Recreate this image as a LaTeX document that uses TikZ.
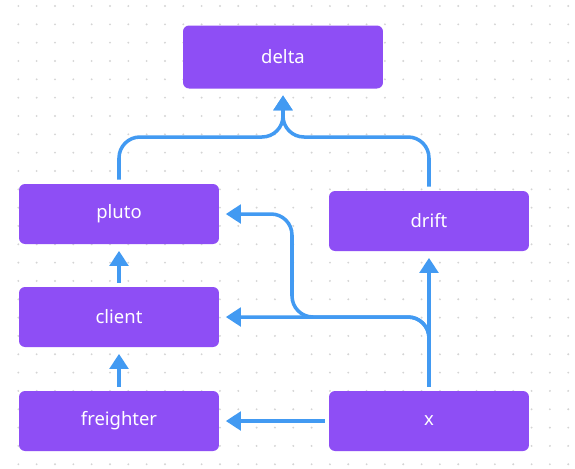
\documentclass[tikz,border=0pt]{standalone}
\usepackage{fontspec}
\setmainfont{Noto Sans}
\usetikzlibrary{arrows.meta}
\definecolor{boxpurple}{RGB}{142,78,245}
\definecolor{flowblue}{RGB}{66,154,242}
\definecolor{dotgray}{RGB}{212,212,212}
\begin{document}
\begin{tikzpicture}[x=0.02cm,y=-0.02cm,
	box/.style={rectangle,rounded corners=0.12cm,fill=boxpurple,text=white,
	minimum width=4cm,minimum height=1.2cm,font=\fontsize{10.5}{12}\selectfont},
	flow/.style={draw=flowblue,line width=2pt,rounded corners=0.42cm,
	-{Triangle[width=0.37cm,length=0.3cm]},shorten <=0.08cm,shorten >=0.13cm}]
\fill[white] (0,0) rectangle (575,468);
\foreach \i in {1,...,31}
  \foreach \j in {0,...,25}
    \fill[dotgray] (\i*18.33,6+\j*18.33) circle (0.6pt);
\node[box,minimum height=1.26cm] (delta) at (283,57) {delta};
\node[box] (pluto) at (119,214) {pluto};
\node[box] (drift) at (429,221) {drift};
\node[box] (client) at (119,317) {client};
\node[box] (freighter) at (119,421) {freighter};
\node[box] (x) at (429,421) {x};
\coordinate (join) at (283,137);
\coordinate (bend) at (292,317);
\draw[flow] (pluto.north) |- (join) -- (delta.south);
\draw[flow] (drift.north) |- (join) -- (delta.south);
\draw[flow] (x.north) |- (client.east);
\draw[flow] (x.north) |- (bend) |- (pluto.east);
\draw[flow] (x.north) -- (drift.south);
\draw[flow] (x.west) -- (freighter.east);
\draw[flow] (client.north) -- (pluto.south);
\draw[flow] (freighter.north) -- (client.south);
\end{tikzpicture}
\end{document}
